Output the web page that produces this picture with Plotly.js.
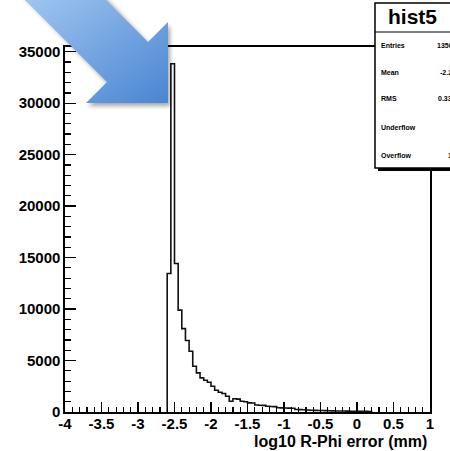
<!DOCTYPE html>
<html>
<head>
<meta charset="utf-8">
<script src="https://cdn.plot.ly/plotly-3.0.1.min.js"></script>
<style>
  html, body { margin: 0; padding: 0; background: #ffffff; }
  #chart { width: 450px; height: 451px; }
</style>
</head>
<body>
<div id="chart"></div>
<script>
// ---- data ----
const histName = "hist5";
const binLowEdge = -2.6;
const binWidth = 0.05;
const binCounts = [
  13450, 33830, 14420, 9900, 8100, 6950, 5900, 4450,
  3800, 3320, 3090, 2890, 2500, 2120, 1920, 1800,
  1530, 1050, 1280, 1250, 1050, 1000, 890, 880,
  680, 660, 640, 560, 540, 520, 420, 400,
  390, 380, 370, 250, 230, 215, 190, 175,
  160, 150, 140, 130, 120, 110, 100, 95,
  90, 85, 80, 75, 70, 65, 60, 55
];
const xTickVals = [-4, -3.5, -3, -2.5, -2, -1.5, -1, -0.5, 0, 0.5, 1];
const xTickText = ["-4", "-3.5", "-3", "-2.5", "-2", "-1.5", "-1", "-0.5", "0", "0.5", "1"];
const yTickVals = [0, 5000, 10000, 15000, 20000, 25000, 30000, 35000];
const yTickText = ["0", "5000", "10000", "15000", "20000", "25000", "30000", "35000"];
const xTitle = "log10 R-Phi error (mm)";
const statLabels = ["Entries", "Mean", "RMS", "Underflow", "Overflow"];
const statValues = ["135000", "-2.266", "0.3341", "0", "125"];

// ---- build step outline ----
const edges = binCounts.map((_, i) => binLowEdge + i * binWidth);
const lastEdge = binLowEdge + binCounts.length * binWidth;
const xs = [binLowEdge].concat(edges, [lastEdge, lastEdge]);
const ys = [0].concat(binCounts, [binCounts[binCounts.length - 1], 0]);

// ---- geometry helpers (pixel -> paper) ----
const W = 450, H = 451;
const L = 65, R = 20, T = 47, B = 39;
const PW = W - L - R, PH = H - T - B;
const px = p => (p - L) / PW;
const py = p => (H - B - p) / PH;

const font = "Liberation Sans, Arial, Helvetica, sans-serif";

// stats box
const shapes = [
  {type: "rect", xref: "paper", yref: "paper", x0: px(378), x1: px(470), y0: py(171), y1: py(6),
   line: {width: 0}, fillcolor: "#000000", layer: "above"},
  {type: "rect", xref: "paper", yref: "paper", x0: px(375), x1: px(466), y0: py(168), y1: py(3),
   line: {color: "#000000", width: 1.5}, fillcolor: "#ffffff", layer: "above"},
  {type: "line", xref: "paper", yref: "paper", x0: px(375), x1: px(466), y0: py(32), y1: py(32),
   line: {color: "#000000", width: 1.2}, layer: "above"}
];

const annotations = [
  {xref: "paper", yref: "paper", x: px(412), y: py(17), text: histName, showarrow: false,
   xanchor: "center", yanchor: "middle", font: {family: font, size: 21, color: "#000", weight: "bold"}},
  {xref: "paper", yref: "paper", x: px(429), y: py(442), text: xTitle, showarrow: false,
   xanchor: "right", yanchor: "middle", font: {family: font, size: 16, color: "#000", weight: "bold"}}
];
const rowY = [45, 72, 99, 127, 155];
statLabels.forEach((lab, i) => {
  annotations.push({xref: "paper", yref: "paper", x: px(379), y: py(rowY[i]), text: lab, showarrow: false,
    xanchor: "left", yanchor: "middle", font: {family: font, size: 7, color: "#000", weight: "bold"}});
  annotations.push({xref: "paper", yref: "paper", x: px(462), y: py(rowY[i]), text: statValues[i], showarrow: false,
    xanchor: "right", yanchor: "middle", font: {family: font, size: 7, color: "#000", weight: "bold"}});
});

// decorative arrow (image overlay)
const arrowSvg =
  '<svg xmlns="http://www.w3.org/2000/svg" width="450" height="451" viewBox="0 0 450 451">' +
  '<defs><linearGradient id="g" x1="0" y1="0" x2="1" y2="1">' +
  '<stop offset="0" stop-color="#a3c8f0"/><stop offset="1" stop-color="#4a85d2"/></linearGradient>' +
  '<filter id="s" x="-20%" y="-20%" width="140%" height="140%"><feGaussianBlur stdDeviation="2"/></filter></defs>' +
  '<polygon points="22,-5 103,-5 150,45 170,25 170,106 88,106 109,85" fill="#000" opacity="0.35" filter="url(#s)"/>' +
  '<polygon points="20,-5 101,-5 148,42 168,22 168,103 86,103 107,82" fill="url(#g)"/>' +
  '</svg>';
const images = [{
  source: "data:image/svg+xml;charset=utf-8," + encodeURIComponent(arrowSvg),
  xref: "paper", yref: "paper", x: px(0), y: py(0), sizex: W / PW, sizey: H / PH,
  xanchor: "left", yanchor: "top", sizing: "stretch", layer: "above"
}];

const trace = {
  type: "scatter", mode: "lines", x: xs, y: ys,
  line: {shape: "hv", color: "#111111", width: 1.6},
  hoverinfo: "skip", showlegend: false
};

const axisCommon = {
  showgrid: false, zeroline: false, showline: true, linecolor: "#000", linewidth: 1.6,
  mirror: true, ticks: "inside", tickcolor: "#000", tickwidth: 1.3,
  tickfont: {family: font, size: 15, color: "#000", weight: "bold"},
  fixedrange: true
};

const layout = {
  width: W, height: H,
  margin: {l: L, r: R, t: T, b: B, pad: 0},
  paper_bgcolor: "#ffffff", plot_bgcolor: "#ffffff",
  xaxis: Object.assign({}, axisCommon, {
    range: [-4, 1], tickmode: "array", tickvals: xTickVals, ticktext: xTickText,
    ticklen: 10, ticklabelstandoff: -3,
    minor: {dtick: 0.1, tick0: -4, ticks: "inside", ticklen: 5, tickcolor: "#000", tickwidth: 1.2, showgrid: false}
  }),
  yaxis: Object.assign({}, axisCommon, {
    range: [0, 35460], tickmode: "array", tickvals: yTickVals, ticktext: yTickText,
    ticklen: 11,
    minor: {dtick: 1000, tick0: 0, ticks: "inside", ticklen: 6, tickcolor: "#000", tickwidth: 1.2, showgrid: false}
  }),
  shapes: shapes,
  annotations: annotations,
  images: images
};

Plotly.newPlot("chart", [trace], layout, {staticPlot: true, displayModeBar: false});
</script>
</body>
</html>
